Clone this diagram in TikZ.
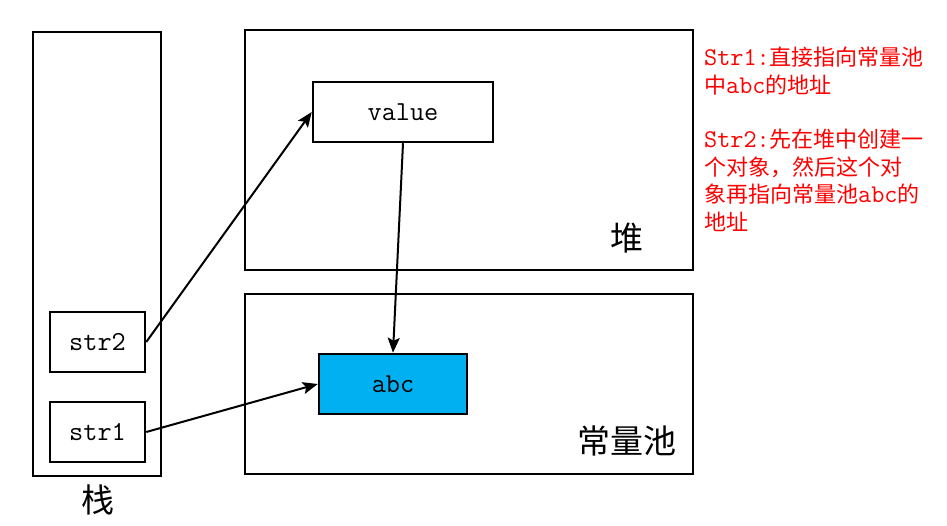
\documentclass[tikz,border=0pt]{standalone}
\usepackage{fontspec}
\newfontfamily\cjk{Noto Sans CJK SC}
\usetikzlibrary{arrows.meta}
\definecolor{abcblue}{HTML}{00B0F0}
\newcommand\lat[1]{{\ttfamily\fontsize{25.5}{27.5}\selectfont #1}}
\begin{document}
\begin{tikzpicture}[x=1pt,y=-1pt,
  box/.style={draw=black,line width=2.5pt,inner sep=0pt},
  vbox/.style={box,font=\ttfamily\fontsize{27.5}{30}\selectfont},
  conn/.style={line width=2pt,-{Stealth[length=15pt,width=12pt,inset=3pt]}},
  biglabel/.style={font=\cjk\fontsize{33}{38}\selectfont,inner sep=0pt}]
\useasboundingbox (0,0) rectangle (947,526);
\node[box,minimum width=128pt,minimum height=444pt] (stack) at (97,254) {};
\node[vbox,minimum width=95pt,minimum height=60pt] (str2) at (97.5,342) {str2};
\node[vbox,minimum width=95pt,minimum height=60pt] (str1) at (97.5,432) {str1};
\node[box,minimum width=448pt,minimum height=240pt] (heap) at (469,150) {};
\node[vbox,minimum width=180pt,minimum height=60pt] (value) at (403,112) {value};
\node[box,minimum width=448pt,minimum height=180pt] (pool) at (469,384) {};
\node[vbox,fill=abcblue,minimum width=148pt,minimum height=60pt] (abc) at (393,384) {abc};
\node[biglabel] (lzhan) at (98,500) {栈};
\node[biglabel] (ldui) at (627,238) {堆};
\node[biglabel] (lpool) at (627,441) {常量池};
\node[anchor=north west,inner sep=0pt,align=left,text=red,
  font=\cjk\fontsize{22}{27.5}\selectfont] (note) at (704,47)
  {\lat{Str1:}直接指向常量池\\
   中\lat{abc}的地址\\[27pt]
   \lat{Str2:}先在堆中创建一\\
   个对象，然后这个对\\
   象再指向常量池\lat{abc}的\\
   地址};
\draw[conn] (str2.east) -- (value.west);
\draw[conn] (str1.east) -- (abc.west);
\draw[conn] (value.south) -- (abc.north);
\end{tikzpicture}
\end{document}
